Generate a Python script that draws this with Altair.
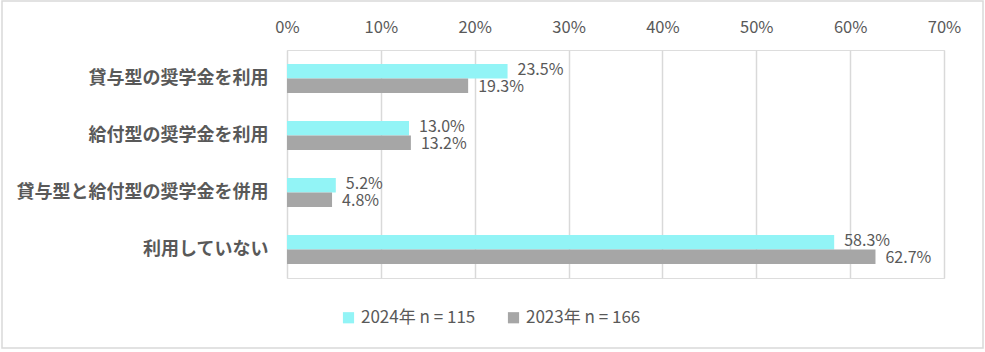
import altair as alt
import pandas as pd

categories = ["貸与型の奨学金を利用", "給付型の奨学金を利用", "貸与型と給付型の奨学金を併用", "利用していない"]
series = ["2024年 n = 115", "2023年 n = 166"]
values_2024 = [23.5, 13.0, 5.2, 58.3]
values_2023 = [19.3, 13.2, 4.8, 62.7]
colors = ["#92F4F6", "#A6A6A6"]
x_ticks = [0, 10, 20, 30, 40, 50, 60, 70]

rows = []
for c, v in zip(categories, values_2024):
    rows.append({"cat": c, "series": series[0], "value": v / 100})
for c, v in zip(categories, values_2023):
    rows.append({"cat": c, "series": series[1], "value": v / 100})
df = pd.DataFrame(rows)

FONT = "Noto Sans CJK JP"

y_enc = alt.Y("cat:N", sort=categories,
              scale=alt.Scale(paddingInner=0.49, paddingOuter=0.245),
              axis=alt.Axis(title=None, labelFontWeight="bold", labelFontSize=18,
                            labelColor="#595959", labelPadding=19, ticks=False,
                            domain=False, grid=False, labelFont=FONT, labelLimit=400))
yoff = alt.YOffset("series:N", sort=series)
x_enc = alt.X("value:Q", scale=alt.Scale(domain=[0, 0.7], nice=False),
              axis=alt.Axis(title=None, orient="top", format=".0%",
                            values=[t / 100 for t in x_ticks],
                            labelFontSize=16.5, labelColor="#595959", labelPadding=15,
                            labelFlush=False, labelOverlap=False,
                            ticks=False, domain=False, grid=True,
                            gridColor="#D9D9D9", gridWidth=1.5, labelFont=FONT))

bars = alt.Chart(df).mark_bar(size=14.5).encode(
    x=x_enc, y=y_enc, yOffset=yoff,
    color=alt.Color("series:N", sort=series,
                    scale=alt.Scale(domain=series, range=colors),
                    legend=alt.Legend(title=None, orient="none", direction="horizontal",
                                      legendX=53, legendY=259, symbolType="square",
                                      symbolSize=125, symbolStrokeWidth=0,
                                      labelFontSize=17, labelColor="#595959",
                                      labelFont=FONT, columnPadding=29,
                                      symbolOffset=0, labelOffset=4)),
)


def label_layer(s, dy):
    return alt.Chart(df).transform_filter(alt.datum.series == s).mark_text(
        align="left", baseline="middle", dx=10, dy=dy,
        fontSize=16, color="#595959", font=FONT).encode(
        x="value:Q", y=alt.Y("cat:N", sort=categories), yOffset=yoff,
        text=alt.Text("value:Q", format=".1%"),
    )


frame = alt.Chart(pd.DataFrame({"a": [0]})).mark_rect(
    fill=None, stroke="#D9D9D9", strokeWidth=1.5).encode(
    x=alt.value(-285), x2=alt.value(696), y=alt.value(-49), y2=alt.value(298))

chart = alt.layer(frame, bars, label_layer(series[0], -1), label_layer(series[1], 1.5)).properties(
    width=657, height=228,
    autosize=alt.AutoSizeParams(type="none"),
    padding={"left": 287, "top": 50, "right": 41, "bottom": 74},
).configure_view(stroke=None).configure(background="white")

chart.save("out.html", embed_options={"renderer": "svg", "actions": False})
